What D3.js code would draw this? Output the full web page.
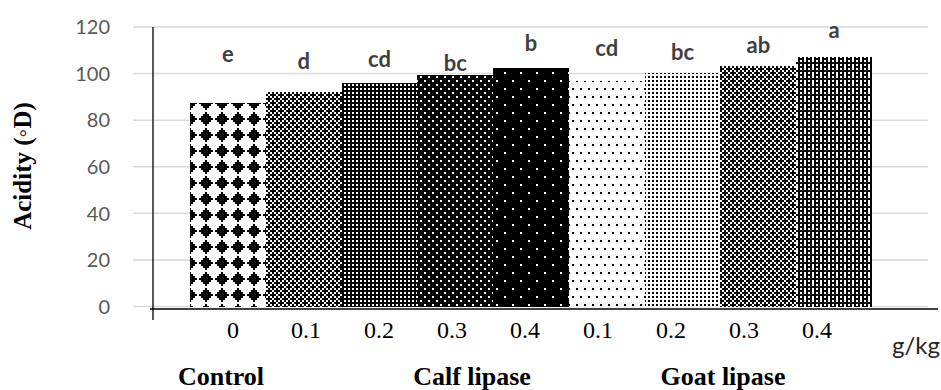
<!DOCTYPE html>
<html>
<head>
<meta charset="utf-8">
<script src="https://cdn.jsdelivr.net/npm/d3@7/dist/d3.min.js"></script>
<style>
  body { margin: 0; background: #fff; }
  .serif { font-family: "Times New Roman", "Liberation Serif", serif; }
</style>
</head>
<body>
<div id="chart"></div>
<script>
// data
const categories = ['Control 0', 'Calf 0.1', 'Calf 0.2', 'Calf 0.3', 'Calf 0.4', 'Goat 0.1', 'Goat 0.2', 'Goat 0.3', 'Goat 0.4'];
const tickLabels = ['0', '0.1', '0.2', '0.3', '0.4', '0.1', '0.2', '0.3', '0.4'];
const acidity = [87.4, 92.2, 95.8, 99.4, 102.5, 96.8, 100.1, 103.3, 107.0];
const letters = ['e', 'd', 'cd', 'bc', 'b', 'cd', 'bc', 'ab', 'a'];
const letterLevel = [105, 101.9, 102.8, 101.1, 109.7, 107.6, 105.8, 108.8, 115.3];
const groups = ['Control', 'Calf lipase', 'Goat lipase'];
const yTicks = [0, 20, 40, 60, 80, 100, 120];

const width = 941, height = 390;

const svg = d3.select('#chart').append('svg')
  .attr('width', width)
  .attr('height', height)
  .style('font-family', 'Lato, "Open Sans", sans-serif');

// 8x8 excel style fill patterns, '#' = black
const bitmaps = [
  ['...#....', '..###...', '.#####..', '#######.', '.#####..', '..###...', '...#....', '........'],
  ['#.#.#.#.', '.###.###', '#.#.#.#.', '##.###.#', '#.#.#.#.', '.###.###', '#.#.#.#.', '##.###.#'],
  ['.#.#.#.#', '########', '.#.#.#.#', '########', '.#.#.#.#', '########', '.#.#.#.#', '########'],
  ['.###.###', '########', '##.###.#', '########', '.###.###', '########', '##.###.#', '########'],
  ['.#######', '########', '########', '########', '####.###', '########', '########', '########'],
  ['#...#...', '........', '........', '........', '..#...#.', '........', '........', '........'],
  ['#.#.#.#.', '........', '#.#.#.#.', '........', '#.#.#.#.', '........', '#.#.#.#.', '........'],
  ['.###.###', '#.#.#.#.', '##.###.#', '#.#.#.#.', '.###.###', '#.#.#.#.', '##.###.#', '#.#.#.#.'],
  ['.#.#.#.#', '##.###.#', '.#.#.#.#', '########', '.#.#.#.#', '##.###.#', '.#.#.#.#', '########']
];
const px = 2;

const defs = svg.append('defs');
bitmaps.forEach((rows, i) => {
  const p = defs.append('pattern')
    .attr('id', `pat-${i}`)
    .attr('patternUnits', 'userSpaceOnUse')
    .attr('width', px * 8)
    .attr('height', px * 8)
    .attr('x', i === 0 ? 183 : 0)
    .attr('y', 0);
  p.append('rect').attr('width', px * 8).attr('height', px * 8).attr('fill', '#fff');
  rows.forEach((row, yy) => {
    row.split('').forEach((c, xx) => {
      if (c === '#') {
        p.append('rect')
          .attr('x', xx * px).attr('y', yy * px)
          .attr('width', px).attr('height', px)
          .attr('fill', '#000')
          .attr('shape-rendering', 'crispEdges');
      }
    });
  });
});

// scales
const x = d3.scaleBand().domain(categories).range([190, 872]).padding(0);
const y = d3.scaleLinear().domain([0, 120]).range([306.5, 27]);
const tickX = d3.scalePoint().domain(d3.range(tickLabels.length)).range([233, 817]);
const groupX = d3.scalePoint().domain(groups).range([221, 723]);

// gridlines
svg.append('g')
  .selectAll('line')
  .data(yTicks)
  .join('line')
  .attr('x1', 133)
  .attr('x2', 928)
  .attr('y1', d => y(d))
  .attr('y2', d => y(d))
  .attr('stroke', '#d9d9d9')
  .attr('stroke-width', 1.5);

// y tick labels
svg.append('g')
  .selectAll('text')
  .data(yTicks)
  .join('text')
  .attr('x', 110)
  .attr('y', d => y(d))
  .attr('dy', '0.36em')
  .attr('text-anchor', 'end')
  .attr('fill', '#595959')
  .style('font-size', '20px')
  .text(d => d);

// bars
svg.append('g')
  .selectAll('rect')
  .data(acidity)
  .join('rect')
  .attr('x', (d, i) => x(categories[i]))
  .attr('y', d => y(d))
  .attr('width', x.bandwidth())
  .attr('height', d => y(0) - y(d))
  .attr('fill', (d, i) => `url(#pat-${i})`)
  .attr('shape-rendering', 'crispEdges');

// significance letters
svg.append('g')
  .selectAll('text')
  .data(letters)
  .join('text')
  .attr('x', (d, i) => x(categories[i]) + x.bandwidth() / 2)
  .attr('y', (d, i) => y(letterLevel[i]))
  .attr('text-anchor', 'middle')
  .attr('fill', '#404040')
  .style('font-size', '22px')
  .style('font-weight', 'bold')
  .text(d => d);

// axes lines
svg.append('line')
  .attr('x1', 153).attr('x2', 153)
  .attr('y1', 27).attr('y2', 320)
  .attr('stroke', '#000').attr('stroke-width', 1.3);
svg.append('line')
  .attr('x1', 150).attr('x2', 938)
  .attr('y1', 309).attr('y2', 309)
  .attr('stroke', '#000').attr('stroke-width', 1.3);

// x tick labels
svg.append('g')
  .selectAll('text')
  .data(tickLabels)
  .join('text')
  .attr('class', 'serif')
  .attr('x', (d, i) => tickX(i))
  .attr('y', 338)
  .attr('text-anchor', 'middle')
  .style('font-size', '24px')
  .attr('fill', '#000')
  .text(d => d);

// group labels
svg.append('g')
  .selectAll('text')
  .data(groups)
  .join('text')
  .attr('class', 'serif')
  .attr('x', d => groupX(d))
  .attr('y', 385)
  .attr('text-anchor', 'middle')
  .style('font-size', '26px')
  .style('font-weight', 'bold')
  .text(d => d);

// unit label
svg.append('text')
  .attr('x', 940)
  .attr('y', 354)
  .attr('text-anchor', 'end')
  .attr('fill', '#262626')
  .style('font-size', '24px')
  .text('g/kg');

// y axis title
svg.append('text')
  .attr('class', 'serif')
  .attr('transform', 'translate(31,166) rotate(-90)')
  .attr('text-anchor', 'middle')
  .style('font-size', '25px')
  .style('font-weight', 'bold')
  .text('Acidity (◦D)');
</script>
</body>
</html>
